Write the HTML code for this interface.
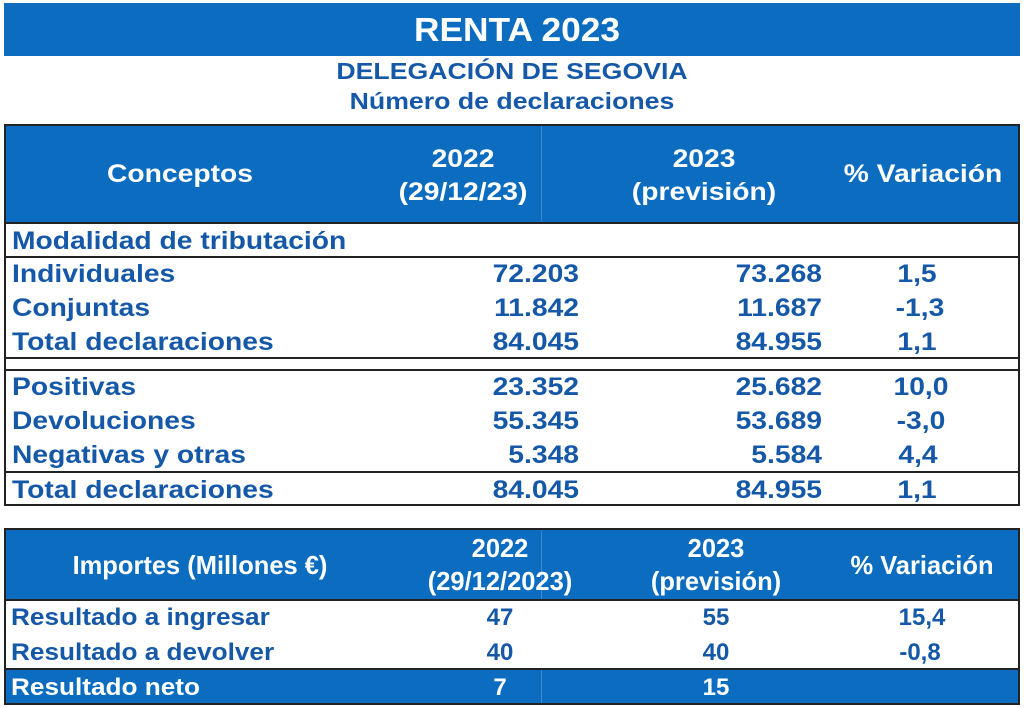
<!DOCTYPE html>
<html><head><meta charset="utf-8"><style>
*{margin:0;padding:0;box-sizing:border-box}
body{width:1024px;height:708px;background:#fff;position:relative;overflow:hidden;font-family:"Liberation Sans",Arial,sans-serif;font-weight:bold;color:#1558a8}
.a{position:absolute;white-space:nowrap}
.bl{position:absolute;background:#0b6cc0}
.w{color:#fff}
.ln{position:absolute;background:#222;height:2px}
.t1{font-size:25px}
.L{transform-origin:left center;transform:scaleX(1.13)}
.C{transform:translateX(-50%) scaleX(1.13)}
.R{transform-origin:right center;transform:translateX(-100%) scaleX(1.13)}
.h2{font-size:26px;transform:translateX(-50%) scaleX(0.98)}
.v2{font-size:24px;transform:translateX(-50%)}
.l2{font-size:24px;transform-origin:left center;transform:scaleX(1.09)}
</style></head><body>
<div class="bl" style="left:4px;top:3px;width:1016px;height:53px"></div>
<div class="a w" style="left:517px;top:11px;font-size:33px;transform:translateX(-50%) scaleX(1.07)">RENTA 2023</div>
<div class="a" style="left:512px;top:58px;font-size:23px;transform:translateX(-50%) scaleX(1.16)">DELEGACIÓN DE SEGOVIA</div>
<div class="a" style="left:512px;top:88px;font-size:23px;transform:translateX(-50%) scaleX(1.16)">Número de declaraciones</div>

<div style="position:absolute;left:4px;top:124px;width:1016px;height:382px;border:2px solid #222"></div>
<div class="bl" style="left:6px;top:126px;width:1012px;height:96px"></div>
<div class="a" style="left:541px;top:126px;width:1px;height:96px;background:#3d88d0"></div>
<div class="ln" style="left:4px;top:222px;width:1016px"></div>
<div class="a w C t1" style="left:180px;top:160px">Conceptos</div>
<div class="a w C t1" style="left:463px;top:143px;line-height:33px;text-align:center">2022<br>(29/12/23)</div>
<div class="a w C t1" style="left:704px;top:143px;line-height:33px;text-align:center">2023<br>(previsión)</div>
<div class="a w C t1" style="left:923px;top:160px">% Variación</div>

<div class="a t1 L" style="left:12px;top:227px">Modalidad de tributación</div>
<div class="ln" style="left:4px;top:256px;width:1016px"></div>
<div class="ln" style="left:4px;top:357px;width:1016px"></div>
<div class="ln" style="left:4px;top:369px;width:1016px"></div>
<div class="ln" style="left:4px;top:471px;width:1016px"></div>

<div class="a t1 L" style="left:12px;top:260px">Individuales</div>
<div class="a t1 L" style="left:12px;top:294px">Conjuntas</div>
<div class="a t1 L" style="left:12px;top:328px">Total declaraciones</div>
<div class="a t1 L" style="left:12px;top:373px">Positivas</div>
<div class="a t1 L" style="left:12px;top:407px">Devoluciones</div>
<div class="a t1 L" style="left:12px;top:441px">Negativas y otras</div>
<div class="a t1 L" style="left:12px;top:476px">Total declaraciones</div>

<div class="a t1 R" style="left:579px;top:260px">72.203</div>
<div class="a t1 R" style="left:579px;top:294px">11.842</div>
<div class="a t1 R" style="left:579px;top:328px">84.045</div>
<div class="a t1 R" style="left:579px;top:373px">23.352</div>
<div class="a t1 R" style="left:579px;top:407px">55.345</div>
<div class="a t1 R" style="left:579px;top:441px">5.348</div>
<div class="a t1 R" style="left:579px;top:476px">84.045</div>

<div class="a t1 R" style="left:822px;top:260px">73.268</div>
<div class="a t1 R" style="left:822px;top:294px">11.687</div>
<div class="a t1 R" style="left:822px;top:328px">84.955</div>
<div class="a t1 R" style="left:822px;top:373px">25.682</div>
<div class="a t1 R" style="left:822px;top:407px">53.689</div>
<div class="a t1 R" style="left:822px;top:441px">5.584</div>
<div class="a t1 R" style="left:822px;top:476px">84.955</div>

<div class="a t1 C" style="left:917px;top:260px">1,5</div>
<div class="a t1 C" style="left:920px;top:294px">-1,3</div>
<div class="a t1 C" style="left:917px;top:328px">1,1</div>
<div class="a t1 C" style="left:921px;top:373px">10,0</div>
<div class="a t1 C" style="left:921px;top:407px">-3,0</div>
<div class="a t1 C" style="left:918px;top:441px">4,4</div>
<div class="a t1 C" style="left:917px;top:476px">1,1</div>

<div style="position:absolute;left:4px;top:528px;width:1016px;height:177px;border:2px solid #222"></div>
<div class="bl" style="left:6px;top:530px;width:1012px;height:69px"></div>
<div class="ln" style="left:4px;top:599px;width:1016px"></div>
<div class="bl" style="left:6px;top:670px;width:1012px;height:33px"></div>
<div class="ln" style="left:4px;top:668px;width:1016px"></div>
<div class="a" style="left:541px;top:530px;width:1px;height:69px;background:#3d88d0"></div>
<div class="a" style="left:541px;top:670px;width:1px;height:33px;background:#3d88d0"></div>

<div class="a w h2" style="left:200px;top:550px">Importes (Millones €)</div>
<div class="a w h2" style="left:500px;top:532px;line-height:33px;text-align:center">2022<br>(29/12/2023)</div>
<div class="a w h2" style="left:716px;top:532px;line-height:33px;text-align:center">2023<br>(previsión)</div>
<div class="a w h2" style="left:922px;top:550px">% Variación</div>

<div class="a l2" style="left:11px;top:604px">Resultado a ingresar</div>
<div class="a l2" style="left:11px;top:639px">Resultado a devolver</div>
<div class="a w l2" style="left:11px;top:674px">Resultado neto</div>

<div class="a v2" style="left:500px;top:604px">47</div>
<div class="a v2" style="left:500px;top:639px">40</div>
<div class="a w v2" style="left:500px;top:674px">7</div>
<div class="a v2" style="left:716px;top:604px">55</div>
<div class="a v2" style="left:716px;top:639px">40</div>
<div class="a w v2" style="left:716px;top:674px">15</div>
<div class="a v2" style="left:922px;top:604px">15,4</div>
<div class="a v2" style="left:920px;top:639px">-0,8</div>
</body></html>
